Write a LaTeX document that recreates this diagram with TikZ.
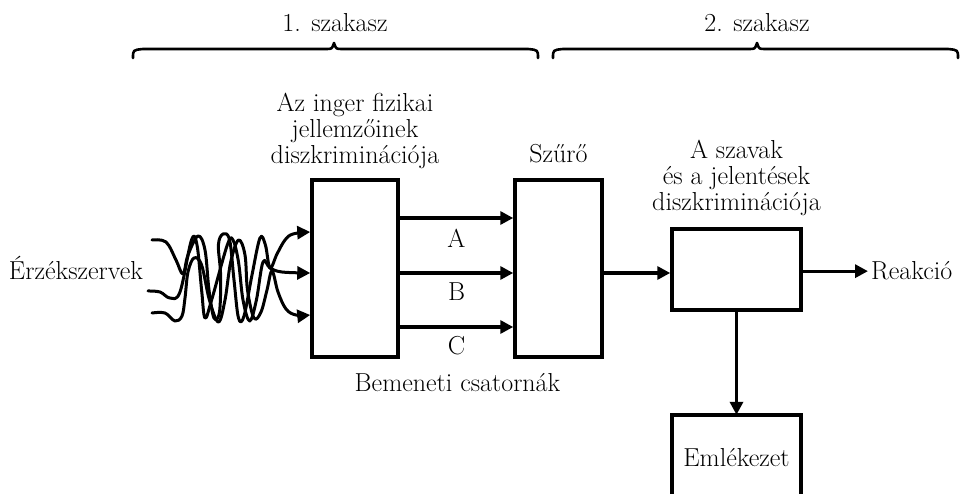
\documentclass[tikz,border=0pt]{standalone}
\usetikzlibrary{arrows.meta}
\begin{document}
\begin{tikzpicture}[x=1pt,y=-1pt,
  every node/.style={font=\fontsize{26}{26}\selectfont},
  box/.style={draw, line width=3.5pt, inner sep=0pt},
  arr/.style={line width=3.3pt, -{Triangle[length=13pt,width=13pt]}},
  wavy/.style={line width=3pt, line cap=round, line join=round, -{Triangle[length=13pt,width=13pt]}},
  bracepath/.style={line width=2.6pt, line cap=round, line join=round},
  lbl/.style={inner sep=0pt, align=center}]
\fill[white] (0,0) rectangle (962,494);
\useasboundingbox (0,0) rectangle (962,494);

% braces
\draw[bracepath] (133,58) .. controls (133,50) .. (143,49) -- (326,49)
  .. controls (332,49) .. (334,43) .. controls (336,49) .. (342,49) -- (528,49)
  .. controls (538,50) .. (538,58);
\draw[bracepath] (553,58) .. controls (553,50) .. (563,49) -- (749,49)
  .. controls (755,49) .. (757,43) .. controls (759,49) .. (765,49) -- (948,49)
  .. controls (958,50) .. (958,58);
\node[lbl, anchor=base] (st1) at (335,32) {1. szakasz};
\node[lbl, anchor=base] (st2) at (757,32) {2. szakasz};

% boxes
\node[box, minimum width=86pt, minimum height=177pt] (disc) at (355,268.5) {};
\node[box, minimum width=87pt, minimum height=177pt] (filt) at (558.5,268.5) {};
\node[box, minimum width=129pt, minimum height=81pt] (word) at (736.5,269.5) {};

% labels
\node[lbl, anchor=south] (disclbl) at (355,169) {Az inger fizikai\\jellemzőinek\\diszkriminációja};
\node[lbl, anchor=base] (filtlbl) at (558.5,163) {Szűrő};
\node[lbl, anchor=south] (wordlbl) at (736.5,216) {A szavak\\és a jelentések\\diszkriminációja};
\node[lbl, anchor=base] (sense) at (76,280) {Érzékszervek};
\node[lbl, anchor=base west] (reak) at (871,280) {Reakció};
\node[lbl, anchor=base] (chan) at (457.5,392) {Bemeneti csatornák};

% channels
\coordinate (yA) at (0,218);
\coordinate (yB) at (0,273);
\coordinate (yC) at (0,327);
\draw[arr] (disc.east |- yA) -- (filt.west |- yA) node[lbl, midway, below=9pt] (la) {A};
\draw[arr] (disc.east |- yB) -- (filt.west |- yB) node[lbl, midway, below=8pt] (lb) {B};
\draw[arr] (disc.east |- yC) -- (filt.west |- yC) node[lbl, midway, below=8pt] (lc) {C};

% filter -> word discrimination
\draw[arr] (filt.east |- yB) -- (word.west |- yB);
\draw[arr, shorten >=3pt] (word.east |- reak.west) -- (reak.west);

% memory (open bottom box)
\node[minimum width=129pt, minimum height=90pt, inner sep=0pt] (mem) at (736.5,460) {};
\node[lbl, anchor=base] (memlbl) at (736.5,467) {Emlékezet};
\draw[line width=3.5pt] (mem.west |- 0,498) -- (mem.north west) -- (mem.north east) -- (mem.east |- 0,498);
\draw[arr] (word.south) -- (mem.north);

% tangled inputs
\coordinate (in1) at (disc.west |- 0,232);
\coordinate (in2) at (disc.west |- 0,273);
\coordinate (in3) at (disc.west |- 0,315);
\draw[wavy] plot[smooth, tension=0.6] coordinates {(152,240) (166,242) (176,260) (183,274) (188,255) (198,236) (205,250) (209,290) (214,318) (219.5,312) (220.6,275) (218.4,245) (223,234) (229.6,240) (234,280) (238.5,318) (244,316) (252,275) (260,238) (265.4,245) (270,268) (277,254) (285,240) (293,234) (in1)};
\draw[wavy] plot[smooth, tension=0.6] coordinates {(148,291) (160,292) (170,298) (180,292) (191.5,240) (197,245) (201.6,290) (205,318) (211.6,300) (227.3,245) (233,240) (238.5,262) (243,300) (249.7,321) (256.4,300) (263,262) (270,268) (282,272) (in2)};
\draw[wavy] plot[smooth, tension=0.6] coordinates {(152,313) (165,313) (175,321) (182,316) (185,298) (188,272) (194,258) (201.6,265) (209.4,300) (218.4,322) (225,300) (230.7,262) (238.5,240) (245,255) (247.5,290) (254,318) (261,312) (267,290) (272,271) (278,292) (286,309) (296,315) (in3)};
\end{tikzpicture}
\end{document}
